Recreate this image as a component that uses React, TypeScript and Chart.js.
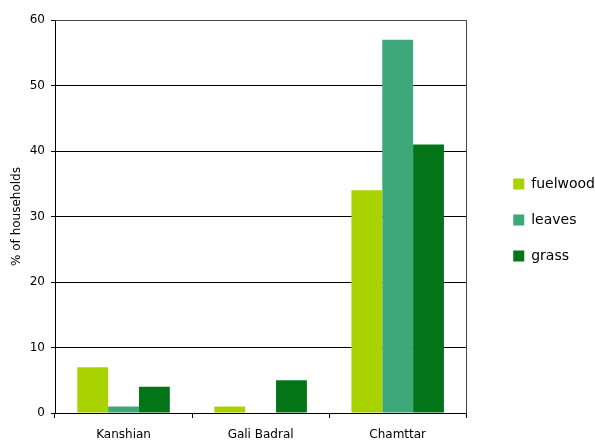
import React, { useEffect, useRef } from "react";
import { Chart, registerables } from "chart.js";

Chart.register(...registerables);

const categories = ["Kanshian", "Gali Badral", "Chamttar"];
const seriesNames = ["fuelwood", "leaves", "grass"];
const fuelwood = [7, 1, 34];
const leaves = [1, 0, 57];
const grass = [4, 5, 41];
const colors = ["#a9d300", "#3ea87b", "#037417"];
const yTicks = [0, 10, 20, 30, 40, 50, 60];

const FONT = "'DejaVu Sans', Verdana, sans-serif";

const framePlugin = {
  id: "frame",
  afterDraw(chart: any) {
    const { ctx, chartArea } = chart;
    ctx.save();
    ctx.strokeStyle = "#444";
    ctx.lineWidth = 1;
    ctx.beginPath();
    ctx.moveTo(Math.round(chartArea.left) + 0.5, Math.round(chartArea.top) + 0.5);
    ctx.lineTo(Math.round(chartArea.right) + 0.5, Math.round(chartArea.top) + 0.5);
    ctx.lineTo(Math.round(chartArea.right) + 0.5, Math.round(chartArea.bottom) + 0.5);
    ctx.stroke();
    ctx.restore();
  },
};

const blankAxis = (position: string, size: number) => ({
  position,
  display: true,
  grid: { display: false },
  border: { display: false },
  ticks: { display: false },
  afterFit: (s: any) => {
    if (position === "top" || position === "bottom") s.height = size;
    else s.width = size;
  },
});

export default function App() {
  const ref = useRef<HTMLCanvasElement>(null);
  useEffect(() => {
    if (!ref.current) return;
    const data = [fuelwood, leaves, grass];
    const chart = new Chart(ref.current, {
      type: "bar",
      data: {
        labels: categories,
        datasets: seriesNames.map((name, i) => ({
          label: name,
          data: data[i],
          backgroundColor: colors[i],
          borderWidth: 0,
          categoryPercentage: 0.675,
          barPercentage: 1.0,
        })),
      },
      options: {
        animation: false,
        responsive: false,
        maintainAspectRatio: false,
        layout: { padding: { top: 0, left: 0, right: -10, bottom: 0 } },
        plugins: {
          tooltip: { enabled: false },
          legend: {
            position: "right",
            maxWidth: 140,
            labels: {
              boxWidth: 11,
              boxHeight: 11,
              padding: 22,
              color: "#000",
              font: { family: FONT, size: 14 },
            },
          },
        },
        scales: {
          x: {
            grid: {
              display: true,
              drawOnChartArea: false,
              offset: true,
              color: "#000",
              tickLength: 5,
            },
            border: { display: true, color: "#000" },
            ticks: {
              color: "#000",
              font: { family: FONT, size: 12 },
              padding: 10,
            },
            afterFit: (s: any) => {
              s.height = 27;
            },
          },
          y: {
            min: 0,
            max: 60,
            afterBuildTicks: (s: any) => {
              s.ticks = yTicks.map((v) => ({ value: v }));
            },
            grid: { color: "#000", tickLength: 4 },
            border: { display: true, color: "#000" },
            ticks: {
              color: "#000",
              font: { family: FONT, size: 12 },
              padding: 6,
            },
            title: {
              display: true,
              text: "% of households",
              color: "#000",
              font: { family: FONT, size: 12 },
              padding: { top: 10, bottom: 0 },
            },
            afterFit: (s: any) => {
              s.width = 55;
            },
          },
          gapTop: blankAxis("top", 20) as any,
          gapRight: blankAxis("right", 25) as any,
        },
      },
      plugins: [framePlugin],
    });
    return () => chart.destroy();
  }, []);
  return (
    <div style={{ position: "absolute", left: 0, top: 0, width: 595, height: 440, background: "#fff" }}>
      <canvas ref={ref} width={595} height={440} />
    </div>
  );
}
